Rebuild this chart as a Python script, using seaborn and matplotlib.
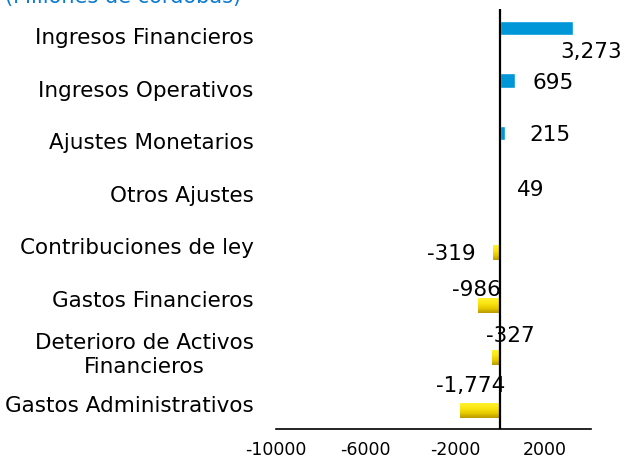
import numpy as np
import pandas as pd
import matplotlib
matplotlib.use("Agg")
import matplotlib.pyplot as plt
from matplotlib.colors import LinearSegmentedColormap
import seaborn as sns

categories = [
    "Ingresos Financieros",
    "Ingresos Operativos",
    "Ajustes Monetarios",
    "Otros Ajustes",
    "Contribuciones de ley",
    "Gastos Financieros",
    "Deterioro de Activos\nFinancieros",
    "Gastos Administrativos",
]
values = [3273, 695, 215, 49, -319, -986, -327, -1774]
x_ticks = [-10000, -6000, -2000, 2000]

# label offsets (pixels) from the bar end, copied by eye from the original
label_offsets = [(18, -16), (38, 6), (45, 6), (30, 4),
                 (-41, -8), (-1, 9), (18, 15), (11, 18)]

df = pd.DataFrame({"cat": categories, "val": values})
df["sign"] = np.where(df["val"] >= 0, "pos", "neg")

sns.set_style("white")
plt.rcParams["font.family"] = ["DejaVu Sans"]

fig = plt.figure(figsize=(6.26, 4.64), dpi=100)
ax = fig.add_axes([0.441, 0.073, 0.503, 0.905])

sns.barplot(data=df, x="val", y="cat", hue="sign", hue_order=["pos", "neg"],
            palette={"pos": "#0096D8", "neg": "#F5DC10"}, dodge=True,
            width=0.56, saturation=1, legend=False, ax=ax, order=categories)

# gradient fill on the negative (yellow) bars: bright on top, darker at the bottom
cmap = LinearSegmentedColormap.from_list("yel", ["#FFF22E", "#FBE614", "#E8CC00", "#B89A00"])
grad = np.linspace(0, 1, 64).reshape(-1, 1)
for bar in ax.containers[1]:
    x0, y0 = bar.get_x(), bar.get_y()
    w, h = bar.get_width(), bar.get_height()
    if w == 0 or np.isnan(w):
        continue
    im = ax.imshow(grad, cmap=cmap, aspect="auto", interpolation="bilinear",
                   extent=(x0, x0 + w, y0 + h, y0), origin="upper", zorder=2)
    im.set_clip_path(bar)

ax.set_xlim(-10000, 4080)
ax.set_ylim(len(categories) - 0.5, -0.5)
ax.axvline(0, color="black", lw=1.6, zorder=3)

for i, (v, (dx, dy)) in enumerate(zip(values, label_offsets)):
    ax.annotate(f"{v:,}", xy=(v, i), xytext=(dx, dy), textcoords="offset pixels",
                ha="center", va="center", fontsize=15.5, color="black")

ax.set_xticks(x_ticks)
ax.set_xticklabels([str(t) for t in x_ticks], fontsize=12.5, color="black")
ax.set_yticks(range(len(categories)))
ax.set_yticklabels(categories, fontsize=15.5, color="black", multialignment="center")
ax.tick_params(axis="y", length=0, pad=16)
ax.tick_params(axis="x", direction="out", length=5, width=1.2, color="black", pad=3)
ax.set_xlabel("")
ax.set_ylabel("")
for s in ["top", "right", "left"]:
    ax.spines[s].set_visible(False)
ax.spines["bottom"].set_color("black")
ax.spines["bottom"].set_linewidth(1.2)

fig.text(0.008, 1.006, "(Millones de córdobas)", color="#0A7BD0", fontsize=15,
         ha="left", va="center")

fig.savefig("out.png", dpi=100)
